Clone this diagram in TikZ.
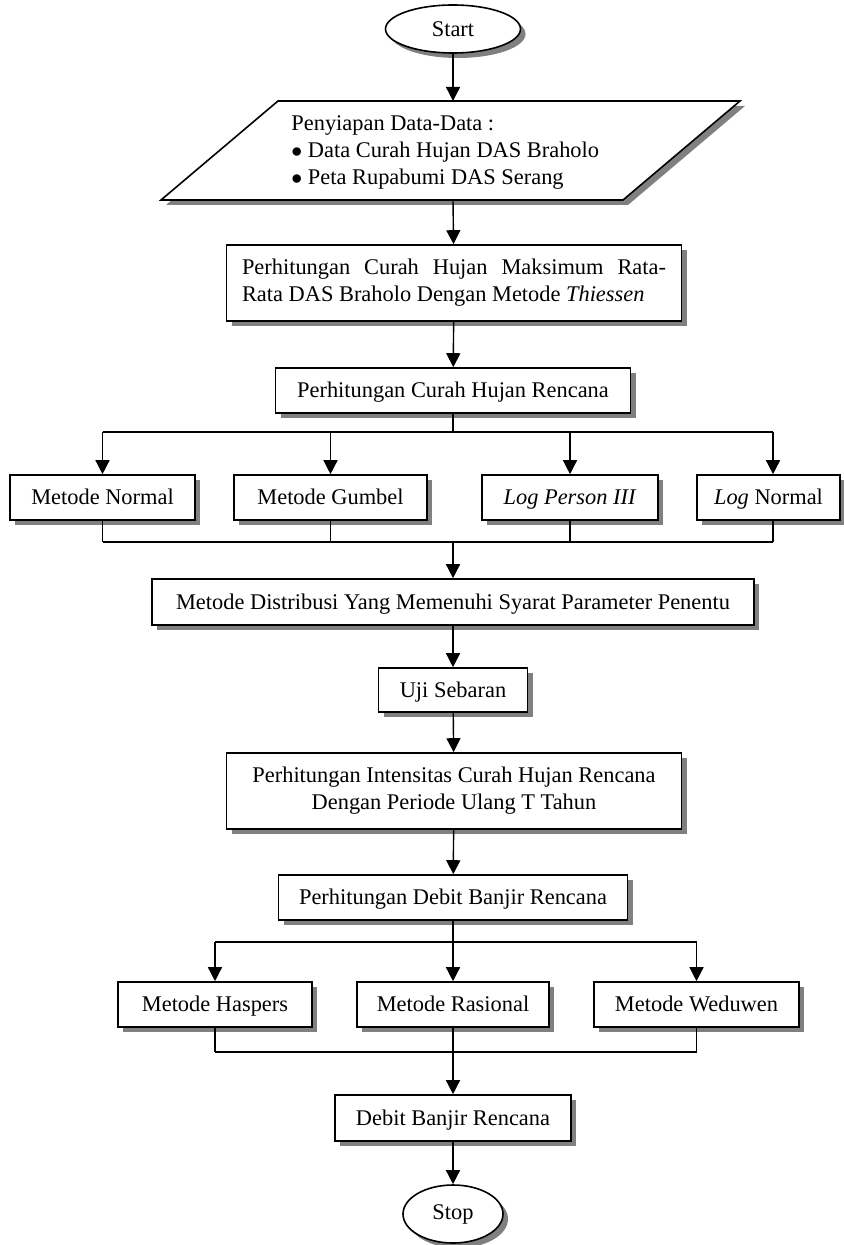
\documentclass[tikz,border=0pt]{standalone}
\usepackage{fontspec}
\setmainfont{Liberation Serif}
\usepackage{tikz}
\usetikzlibrary{arrows.meta}
\usetikzlibrary{shapes.geometric}
\usetikzlibrary{shadows}
\definecolor{shadow-gray}{HTML}{808080}

\tikzset{
  bayang/.style={drop shadow={shadow xshift=2.5pt,shadow yshift=-2.5pt,fill=shadow-gray,opacity=1}},
  kotak/.style={draw,line width=0.8pt,fill=white,bayang,minimum height=22.5pt,inner sep=3pt},
  baris/.style={text height=7pt,text depth=0pt},
  terminal/.style={ellipse,draw,line width=0.8pt,fill=white,bayang},
  garis/.style={line width=0.7pt},
  panah/.style={-{Triangle[length=7pt,width=7pt]},line width=0.7pt}
}

\begin{document}
\begin{tikzpicture}[x=0.5pt,y=-0.5pt,font=\fontsize{11.2pt}{13.5pt}\selectfont]

    \useasboundingbox (0,0) rectangle (844,1245);

    %--- START AND DATA ---------------------

    \node[terminal,minimum width=67.5pt,minimum height=24pt] (start) at (453,29) {Start};

    % Parallelogram corners
    \coordinate (d1) at (278,101);
    \coordinate (d2) at (740,101);
    \coordinate (d3) at (623,200);
    \coordinate (d4) at (161,200);
    \draw[line width=0.8pt,fill=white,bayang] (d1) -- (d2) -- (d3) -- (d4) -- cycle;
    \node[anchor=west,align=left,inner sep=0pt] (data) at (291,153)
        {Penyiapan Data-Data :\\ $\bullet$\ Data Curah Hujan DAS Braholo\\ $\bullet$\ Peta Rupabumi DAS Serang};
    \coordinate (dtop) at (453,101);
    \coordinate (dbot) at (453,200);

    %--- MAIN COLUMN ------------------------

    \node[kotak,minimum width=227.5pt,minimum height=38pt,text width=212pt,align=justify] (hujan) at (454,283)
        {Perhitungan Curah Hujan Maksimum Rata-\linebreak Rata DAS Braholo Dengan Metode \textit{Thiessen}};
    \node[kotak,baris,minimum width=177.5pt] (rencana) at (453,390.5) {Perhitungan Curah Hujan Rencana};

    % First row of methods
    \node[kotak,baris,minimum width=92.5pt] (normal) at (102.5,497.5) {Metode Normal};
    \node[kotak,baris,minimum width=96.5pt] (gumbel) at (330.5,497.5) {Metode Gumbel};
    \node[kotak,baris,minimum width=88pt] (person) at (570,497.5) {\textit{Log Person III}};
    \node[kotak,baris,minimum width=71.5pt] (lognormal) at (768.5,497.5) {\textit{Log} Normal};

    \node[kotak,baris,minimum width=301pt,minimum height=23pt] (dist) at (453,602) {Metode Distribusi Yang Memenuhi Syarat Parameter Penentu};
    \node[kotak,baris,minimum width=74.5pt,minimum height=22pt] (uji) at (453,690) {Uji Sebaran};
    \node[kotak,minimum width=227.5pt,minimum height=38pt,align=center] (intens) at (454,791)
        {Perhitungan Intensitas Curah Hujan Rencana\\ Dengan Periode Ulang T Tahun};
    \node[kotak,baris,minimum width=174.5pt] (debit) at (453,897.5) {Perhitungan Debit Banjir Rencana};

    % Second row of methods
    \node[kotak,baris,minimum width=97pt] (haspers) at (215,1004.5) {Metode Haspers};
    \node[kotak,baris,minimum width=96pt] (rasional) at (453,1004.5) {Metode Rasional};
    \node[kotak,baris,minimum width=102.5pt] (weduwen) at (696.5,1004.5) {Metode Weduwen};

    \node[kotak,baris,minimum width=118pt,minimum height=23pt] (dbr) at (453,1118) {Debit Banjir Rencana};
    \node[terminal,minimum width=50pt,minimum height=29pt] (stop) at (453,1214) {Stop};

    %--- CONNECTORS -------------------------

    \draw[panah] (start) -- (dtop);
    \draw[panah] (dbot) -- (hujan);
    \draw[panah] (hujan) -- (rencana);

    % Branch to first row
    \coordinate (cab1) at (453,432);
    \coordinate (b4) at (773,432);
    \draw[garis] (rencana) -- (cab1);
    \draw[garis] (cab1 -| normal) -- (b4);
    \foreach \n in {normal,gumbel,person}{
        \draw[panah] (cab1 -| \n) -- (\n);
    }
    \draw[panah] (b4) -- (b4 |- lognormal.north);

    % Merge of first row
    \coordinate (gab1) at (453,542);
    \foreach \n in {normal,gumbel,person}{
        \draw[garis] (\n) -- (gab1 -| \n);
    }
    \draw[garis] (b4 |- lognormal.south) -- (b4 |- gab1);
    \draw[garis] (gab1 -| normal) -- (b4 |- gab1);
    \draw[panah] (gab1) -- (dist);

    \draw[panah] (dist) -- (uji);
    \draw[panah] (uji) -- (intens);
    \draw[panah] (intens) -- (debit);

    % Branch to second row
    \coordinate (cab2) at (453,942);
    \draw[garis] (debit) -- (cab2);
    \draw[garis] (cab2 -| haspers) -- (cab2 -| weduwen);
    \foreach \n in {haspers,rasional,weduwen}{
        \draw[panah] (cab2 -| \n) -- (\n);
    }

    % Merge of second row
    \coordinate (gab2) at (453,1052);
    \foreach \n in {haspers,rasional,weduwen}{
        \draw[garis] (\n) -- (gab2 -| \n);
    }
    \draw[garis] (gab2 -| haspers) -- (gab2 -| weduwen);
    \draw[panah] (gab2) -- (dbr);
    \draw[panah] (dbr) -- (stop);

\end{tikzpicture}
\end{document}
